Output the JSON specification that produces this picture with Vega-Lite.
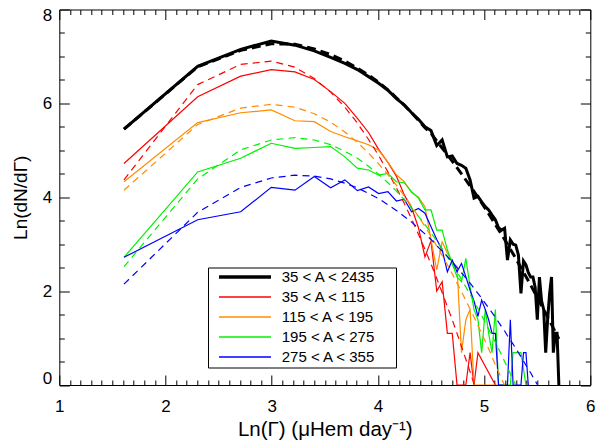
{
  "$schema": "https://vega.github.io/schema/vega-lite/v6.json",
  "width": 531,
  "height": 375.5,
  "autosize": {"type": "none"},
  "padding": {"left": 59.3, "top": 9.5, "right": 10.7, "bottom": 60},
  "background": "white",
  "config": {
    "view": {"stroke": "black", "strokeWidth": 1},
    "axis": {"labelFont": "Liberation Sans", "titleFont": "Liberation Sans", "labelColor": "black", "titleColor": "black", "titleFontWeight": "normal", "tickColor": "black", "grid": false},
    "legend": {"labelFont": "Liberation Sans", "labelFontSize": 15, "labelAlign": "left", "labelColor": "black"}
  },
  "datasets": {
    "obs": [
      {"series": "35 < A < 2435", "lnG": 1.609, "lnN": 5.45}, {"series": "35 < A < 2435", "lnG": 2.303, "lnN": 6.79}, {"series": "35 < A < 2435", "lnG": 2.708, "lnN": 7.15}, {"series": "35 < A < 2435", "lnG": 2.996, "lnN": 7.33}, {"series": "35 < A < 2435", "lnG": 3.219, "lnN": 7.24}, {"series": "35 < A < 2435", "lnG": 3.401, "lnN": 7.12}, {"series": "35 < A < 2435", "lnG": 3.555, "lnN": 6.98}, {"series": "35 < A < 2435", "lnG": 3.689, "lnN": 6.85}, {"series": "35 < A < 2435", "lnG": 3.807, "lnN": 6.72}, {"series": "35 < A < 2435", "lnG": 3.912, "lnN": 6.57}, {"series": "35 < A < 2435", "lnG": 4.007, "lnN": 6.43}, {"series": "35 < A < 2435", "lnG": 4.094, "lnN": 6.28}, {"series": "35 < A < 2435", "lnG": 4.174, "lnN": 6.10}, {"series": "35 < A < 2435", "lnG": 4.248, "lnN": 5.97}, {"series": "35 < A < 2435", "lnG": 4.317, "lnN": 5.80}, {"series": "35 < A < 2435", "lnG": 4.382, "lnN": 5.66}, {"series": "35 < A < 2435", "lnG": 4.443, "lnN": 5.50}, {"series": "35 < A < 2435", "lnG": 4.500, "lnN": 5.42}, {"series": "35 < A < 2435", "lnG": 4.554, "lnN": 5.10}, {"series": "35 < A < 2435", "lnG": 4.605, "lnN": 5.22}, {"series": "35 < A < 2435", "lnG": 4.654, "lnN": 4.86}, {"series": "35 < A < 2435", "lnG": 4.700, "lnN": 4.88}, {"series": "35 < A < 2435", "lnG": 4.745, "lnN": 4.72}, {"series": "35 < A < 2435", "lnG": 4.787, "lnN": 4.68}, {"series": "35 < A < 2435", "lnG": 4.828, "lnN": 4.62}, {"series": "35 < A < 2435", "lnG": 4.868, "lnN": 4.37}, {"series": "35 < A < 2435", "lnG": 4.905, "lnN": 3.98}, {"series": "35 < A < 2435", "lnG": 4.942, "lnN": 4.02}, {"series": "35 < A < 2435", "lnG": 4.977, "lnN": 3.90}, {"series": "35 < A < 2435", "lnG": 5.011, "lnN": 3.80}, {"series": "35 < A < 2435", "lnG": 5.043, "lnN": 3.73}, {"series": "35 < A < 2435", "lnG": 5.075, "lnN": 3.62}, {"series": "35 < A < 2435", "lnG": 5.106, "lnN": 3.52}, {"series": "35 < A < 2435", "lnG": 5.136, "lnN": 3.35}, {"series": "35 < A < 2435", "lnG": 5.165, "lnN": 3.30}, {"series": "35 < A < 2435", "lnG": 5.193, "lnN": 3.34}, {"series": "35 < A < 2435", "lnG": 5.220, "lnN": 2.66}, {"series": "35 < A < 2435", "lnG": 5.247, "lnN": 3.09}, {"series": "35 < A < 2435", "lnG": 5.273, "lnN": 3.00}, {"series": "35 < A < 2435", "lnG": 5.298, "lnN": 2.98}, {"series": "35 < A < 2435", "lnG": 5.323, "lnN": 2.77}, {"series": "35 < A < 2435", "lnG": 5.347, "lnN": 1.95}, {"series": "35 < A < 2435", "lnG": 5.371, "lnN": 2.64}, {"series": "35 < A < 2435", "lnG": 5.394, "lnN": 2.56}, {"series": "35 < A < 2435", "lnG": 5.416, "lnN": 2.40}, {"series": "35 < A < 2435", "lnG": 5.438, "lnN": 2.30}, {"series": "35 < A < 2435", "lnG": 5.460, "lnN": 2.30}, {"series": "35 < A < 2435", "lnG": 5.481, "lnN": 2.08}, {"series": "35 < A < 2435", "lnG": 5.501, "lnN": 1.39}, {"series": "35 < A < 2435", "lnG": 5.521, "lnN": 2.30}, {"series": "35 < A < 2435", "lnG": 5.541, "lnN": 1.79}, {"series": "35 < A < 2435", "lnG": 5.561, "lnN": 1.61}, {"series": "35 < A < 2435", "lnG": 5.580, "lnN": 0.69}, {"series": "35 < A < 2435", "lnG": 5.598, "lnN": 1.39}, {"series": "35 < A < 2435", "lnG": 5.617, "lnN": 1.95}, {"series": "35 < A < 2435", "lnG": 5.635, "lnN": 2.30}, {"series": "35 < A < 2435", "lnG": 5.652, "lnN": 0.69}, {"series": "35 < A < 2435", "lnG": 5.670, "lnN": 1.10}, {"series": "35 < A < 2435", "lnG": 5.687, "lnN": 1.10}, {"series": "35 < A < 2435", "lnG": 5.704, "lnN": 0},

      {"series": "35 < A < 115", "lnG": 1.609, "lnN": 4.72}, {"series": "35 < A < 115", "lnG": 2.303, "lnN": 6.14}, {"series": "35 < A < 115", "lnG": 2.708, "lnN": 6.58}, {"series": "35 < A < 115", "lnG": 2.996, "lnN": 6.72}, {"series": "35 < A < 115", "lnG": 3.219, "lnN": 6.67}, {"series": "35 < A < 115", "lnG": 3.401, "lnN": 6.51}, {"series": "35 < A < 115", "lnG": 3.555, "lnN": 6.25}, {"series": "35 < A < 115", "lnG": 3.689, "lnN": 6.00}, {"series": "35 < A < 115", "lnG": 3.807, "lnN": 5.68}, {"series": "35 < A < 115", "lnG": 3.912, "lnN": 5.38}, {"series": "35 < A < 115", "lnG": 4.007, "lnN": 5.02}, {"series": "35 < A < 115", "lnG": 4.094, "lnN": 4.74}, {"series": "35 < A < 115", "lnG": 4.174, "lnN": 4.45}, {"series": "35 < A < 115", "lnG": 4.248, "lnN": 4.05}, {"series": "35 < A < 115", "lnG": 4.317, "lnN": 3.78}, {"series": "35 < A < 115", "lnG": 4.382, "lnN": 3.35}, {"series": "35 < A < 115", "lnG": 4.443, "lnN": 2.73}, {"series": "35 < A < 115", "lnG": 4.500, "lnN": 3.07}, {"series": "35 < A < 115", "lnG": 4.554, "lnN": 2.00}, {"series": "35 < A < 115", "lnG": 4.605, "lnN": 2.20}, {"series": "35 < A < 115", "lnG": 4.654, "lnN": 1.10}, {"series": "35 < A < 115", "lnG": 4.700, "lnN": 1.10}, {"series": "35 < A < 115", "lnG": 4.745, "lnN": 0}, {"series": "35 < A < 115", "lnG": 4.787, "lnN": 0}, {"series": "35 < A < 115", "lnG": 4.828, "lnN": 0}, {"series": "35 < A < 115", "lnG": 4.868, "lnN": 0.69}, {"series": "35 < A < 115", "lnG": 4.905, "lnN": 0}, {"series": "35 < A < 115", "lnG": 4.942, "lnN": 0.69}, {"series": "35 < A < 115", "lnG": 5.106, "lnN": 0},

      {"series": "115 < A < 195", "lnG": 1.609, "lnN": 4.33}, {"series": "115 < A < 195", "lnG": 2.303, "lnN": 5.59}, {"series": "115 < A < 195", "lnG": 2.708, "lnN": 5.80}, {"series": "115 < A < 195", "lnG": 2.996, "lnN": 5.86}, {"series": "115 < A < 195", "lnG": 3.219, "lnN": 5.63}, {"series": "115 < A < 195", "lnG": 3.401, "lnN": 5.61}, {"series": "115 < A < 195", "lnG": 3.555, "lnN": 5.40}, {"series": "115 < A < 195", "lnG": 3.689, "lnN": 5.29}, {"series": "115 < A < 195", "lnG": 3.807, "lnN": 5.20}, {"series": "115 < A < 195", "lnG": 3.912, "lnN": 5.12}, {"series": "115 < A < 195", "lnG": 4.007, "lnN": 5.00}, {"series": "115 < A < 195", "lnG": 4.094, "lnN": 4.75}, {"series": "115 < A < 195", "lnG": 4.174, "lnN": 4.48}, {"series": "115 < A < 195", "lnG": 4.248, "lnN": 4.33}, {"series": "115 < A < 195", "lnG": 4.317, "lnN": 4.10}, {"series": "115 < A < 195", "lnG": 4.382, "lnN": 4.00}, {"series": "115 < A < 195", "lnG": 4.443, "lnN": 3.80}, {"series": "115 < A < 195", "lnG": 4.500, "lnN": 3.10}, {"series": "115 < A < 195", "lnG": 4.554, "lnN": 2.45}, {"series": "115 < A < 195", "lnG": 4.605, "lnN": 3.05}, {"series": "115 < A < 195", "lnG": 4.654, "lnN": 2.81}, {"series": "115 < A < 195", "lnG": 4.700, "lnN": 2.63}, {"series": "115 < A < 195", "lnG": 4.745, "lnN": 2.52}, {"series": "115 < A < 195", "lnG": 4.787, "lnN": 0.69}, {"series": "115 < A < 195", "lnG": 4.828, "lnN": 1.39}, {"series": "115 < A < 195", "lnG": 4.868, "lnN": 1.61}, {"series": "115 < A < 195", "lnG": 4.905, "lnN": 0}, {"series": "115 < A < 195", "lnG": 4.942, "lnN": 0}, {"series": "115 < A < 195", "lnG": 5.011, "lnN": 0}, {"series": "115 < A < 195", "lnG": 5.075, "lnN": 0}, {"series": "115 < A < 195", "lnG": 5.136, "lnN": 0},

      {"series": "195 < A < 275", "lnG": 1.609, "lnN": 2.72}, {"series": "195 < A < 275", "lnG": 2.303, "lnN": 4.54}, {"series": "195 < A < 275", "lnG": 2.708, "lnN": 4.83}, {"series": "195 < A < 275", "lnG": 2.996, "lnN": 5.15}, {"series": "195 < A < 275", "lnG": 3.219, "lnN": 5.04}, {"series": "195 < A < 275", "lnG": 3.401, "lnN": 5.06}, {"series": "195 < A < 275", "lnG": 3.555, "lnN": 5.08}, {"series": "195 < A < 275", "lnG": 3.689, "lnN": 4.86}, {"series": "195 < A < 275", "lnG": 3.807, "lnN": 4.62}, {"series": "195 < A < 275", "lnG": 3.912, "lnN": 4.58}, {"series": "195 < A < 275", "lnG": 4.007, "lnN": 4.47}, {"series": "195 < A < 275", "lnG": 4.094, "lnN": 4.51}, {"series": "195 < A < 275", "lnG": 4.174, "lnN": 4.33}, {"series": "195 < A < 275", "lnG": 4.248, "lnN": 4.31}, {"series": "195 < A < 275", "lnG": 4.317, "lnN": 4.12}, {"series": "195 < A < 275", "lnG": 4.382, "lnN": 3.98}, {"series": "195 < A < 275", "lnG": 4.443, "lnN": 3.73}, {"series": "195 < A < 275", "lnG": 4.500, "lnN": 3.73}, {"series": "195 < A < 275", "lnG": 4.554, "lnN": 3.30}, {"series": "195 < A < 275", "lnG": 4.605, "lnN": 3.30}, {"series": "195 < A < 275", "lnG": 4.654, "lnN": 2.88}, {"series": "195 < A < 275", "lnG": 4.700, "lnN": 2.59}, {"series": "195 < A < 275", "lnG": 4.745, "lnN": 2.30}, {"series": "195 < A < 275", "lnG": 4.787, "lnN": 2.20}, {"series": "195 < A < 275", "lnG": 4.828, "lnN": 2.70}, {"series": "195 < A < 275", "lnG": 4.868, "lnN": 2.09}, {"series": "195 < A < 275", "lnG": 4.905, "lnN": 1.61}, {"series": "195 < A < 275", "lnG": 4.942, "lnN": 1.39}, {"series": "195 < A < 275", "lnG": 4.977, "lnN": 0.69}, {"series": "195 < A < 275", "lnG": 5.011, "lnN": 1.61}, {"series": "195 < A < 275", "lnG": 5.043, "lnN": 1.10}, {"series": "195 < A < 275", "lnG": 5.075, "lnN": 0.69}, {"series": "195 < A < 275", "lnG": 5.106, "lnN": 1.61}, {"series": "195 < A < 275", "lnG": 5.136, "lnN": 0}, {"series": "195 < A < 275", "lnG": 5.165, "lnN": 0}, {"series": "195 < A < 275", "lnG": 5.193, "lnN": 0}, {"series": "195 < A < 275", "lnG": 5.220, "lnN": 0}, {"series": "195 < A < 275", "lnG": 5.247, "lnN": 0}, {"series": "195 < A < 275", "lnG": 5.273, "lnN": 0.69}, {"series": "195 < A < 275", "lnG": 5.298, "lnN": 0.69}, {"series": "195 < A < 275", "lnG": 5.323, "lnN": 0.69}, {"series": "195 < A < 275", "lnG": 5.347, "lnN": 0.69}, {"series": "195 < A < 275", "lnG": 5.394, "lnN": 0},

      {"series": "275 < A < 355", "lnG": 1.609, "lnN": 2.72}, {"series": "275 < A < 355", "lnG": 2.303, "lnN": 3.52}, {"series": "275 < A < 355", "lnG": 2.708, "lnN": 3.69}, {"series": "275 < A < 355", "lnG": 2.996, "lnN": 4.21}, {"series": "275 < A < 355", "lnG": 3.219, "lnN": 4.15}, {"series": "275 < A < 355", "lnG": 3.401, "lnN": 4.44}, {"series": "275 < A < 355", "lnG": 3.555, "lnN": 4.20}, {"series": "275 < A < 355", "lnG": 3.689, "lnN": 4.37}, {"series": "275 < A < 355", "lnG": 3.807, "lnN": 4.14}, {"series": "275 < A < 355", "lnG": 3.912, "lnN": 4.22}, {"series": "275 < A < 355", "lnG": 4.007, "lnN": 4.08}, {"series": "275 < A < 355", "lnG": 4.094, "lnN": 4.12}, {"series": "275 < A < 355", "lnG": 4.174, "lnN": 3.92}, {"series": "275 < A < 355", "lnG": 4.248, "lnN": 3.96}, {"series": "275 < A < 355", "lnG": 4.317, "lnN": 3.69}, {"series": "275 < A < 355", "lnG": 4.382, "lnN": 3.76}, {"series": "275 < A < 355", "lnG": 4.443, "lnN": 3.66}, {"series": "275 < A < 355", "lnG": 4.500, "lnN": 3.37}, {"series": "275 < A < 355", "lnG": 4.554, "lnN": 3.10}, {"series": "275 < A < 355", "lnG": 4.605, "lnN": 2.88}, {"series": "275 < A < 355", "lnG": 4.654, "lnN": 2.41}, {"series": "275 < A < 355", "lnG": 4.700, "lnN": 2.66}, {"series": "275 < A < 355", "lnG": 4.745, "lnN": 2.41}, {"series": "275 < A < 355", "lnG": 4.787, "lnN": 2.59}, {"series": "275 < A < 355", "lnG": 4.828, "lnN": 2.31}, {"series": "275 < A < 355", "lnG": 4.868, "lnN": 2.02}, {"series": "275 < A < 355", "lnG": 4.905, "lnN": 1.79}, {"series": "275 < A < 355", "lnG": 4.942, "lnN": 1.46}, {"series": "275 < A < 355", "lnG": 4.977, "lnN": 1.81}, {"series": "275 < A < 355", "lnG": 5.011, "lnN": 1.61}, {"series": "275 < A < 355", "lnG": 5.043, "lnN": 1.39}, {"series": "275 < A < 355", "lnG": 5.075, "lnN": 1.10}, {"series": "275 < A < 355", "lnG": 5.106, "lnN": 1.10}, {"series": "275 < A < 355", "lnG": 5.136, "lnN": 0}, {"series": "275 < A < 355", "lnG": 5.165, "lnN": 0}, {"series": "275 < A < 355", "lnG": 5.193, "lnN": 0}, {"series": "275 < A < 355", "lnG": 5.220, "lnN": 0}, {"series": "275 < A < 355", "lnG": 5.247, "lnN": 1.39}, {"series": "275 < A < 355", "lnG": 5.273, "lnN": 0}, {"series": "275 < A < 355", "lnG": 5.298, "lnN": 0}, {"series": "275 < A < 355", "lnG": 5.323, "lnN": 0}, {"series": "275 < A < 355", "lnG": 5.347, "lnN": 0}, {"series": "275 < A < 355", "lnG": 5.371, "lnN": 0.69}, {"series": "275 < A < 355", "lnG": 5.394, "lnN": 0.69}, {"series": "275 < A < 355", "lnG": 5.416, "lnN": 0}
    ],
    "fit": [
      {"series": "35 < A < 2435", "lnG": 1.609, "lnN": 5.45}, {"series": "35 < A < 2435", "lnG": 2.303, "lnN": 6.78}, {"series": "35 < A < 2435", "lnG": 2.708, "lnN": 7.13}, {"series": "35 < A < 2435", "lnG": 2.996, "lnN": 7.27}, {"series": "35 < A < 2435", "lnG": 3.219, "lnN": 7.26}, {"series": "35 < A < 2435", "lnG": 3.401, "lnN": 7.16}, {"series": "35 < A < 2435", "lnG": 3.555, "lnN": 7.04}, {"series": "35 < A < 2435", "lnG": 3.689, "lnN": 6.90}, {"series": "35 < A < 2435", "lnG": 3.807, "lnN": 6.75}, {"series": "35 < A < 2435", "lnG": 3.912, "lnN": 6.60}, {"series": "35 < A < 2435", "lnG": 4.007, "lnN": 6.45}, {"series": "35 < A < 2435", "lnG": 4.094, "lnN": 6.29}, {"series": "35 < A < 2435", "lnG": 4.174, "lnN": 6.12}, {"series": "35 < A < 2435", "lnG": 4.248, "lnN": 5.96}, {"series": "35 < A < 2435", "lnG": 4.317, "lnN": 5.80}, {"series": "35 < A < 2435", "lnG": 4.382, "lnN": 5.64}, {"series": "35 < A < 2435", "lnG": 4.443, "lnN": 5.48}, {"series": "35 < A < 2435", "lnG": 4.500, "lnN": 5.36}, {"series": "35 < A < 2435", "lnG": 4.605, "lnN": 5.05}, {"series": "35 < A < 2435", "lnG": 4.700, "lnN": 4.77}, {"series": "35 < A < 2435", "lnG": 4.787, "lnN": 4.50}, {"series": "35 < A < 2435", "lnG": 4.868, "lnN": 4.24}, {"series": "35 < A < 2435", "lnG": 4.942, "lnN": 4.00}, {"series": "35 < A < 2435", "lnG": 5.011, "lnN": 3.76}, {"series": "35 < A < 2435", "lnG": 5.075, "lnN": 3.53}, {"series": "35 < A < 2435", "lnG": 5.136, "lnN": 3.31}, {"series": "35 < A < 2435", "lnG": 5.193, "lnN": 3.10}, {"series": "35 < A < 2435", "lnG": 5.247, "lnN": 2.89}, {"series": "35 < A < 2435", "lnG": 5.298, "lnN": 2.70}, {"series": "35 < A < 2435", "lnG": 5.347, "lnN": 2.50}, {"series": "35 < A < 2435", "lnG": 5.394, "lnN": 2.31}, {"series": "35 < A < 2435", "lnG": 5.438, "lnN": 2.13}, {"series": "35 < A < 2435", "lnG": 5.481, "lnN": 1.95}, {"series": "35 < A < 2435", "lnG": 5.521, "lnN": 1.78}, {"series": "35 < A < 2435", "lnG": 5.561, "lnN": 1.61}, {"series": "35 < A < 2435", "lnG": 5.598, "lnN": 1.45}, {"series": "35 < A < 2435", "lnG": 5.635, "lnN": 1.29}, {"series": "35 < A < 2435", "lnG": 5.670, "lnN": 1.13}, {"series": "35 < A < 2435", "lnG": 5.704, "lnN": 0.98},

      {"series": "35 < A < 115", "lnG": 1.609, "lnN": 4.37}, {"series": "35 < A < 115", "lnG": 2.303, "lnN": 6.40}, {"series": "35 < A < 115", "lnG": 2.708, "lnN": 6.83}, {"series": "35 < A < 115", "lnG": 2.996, "lnN": 6.90}, {"series": "35 < A < 115", "lnG": 3.219, "lnN": 6.77}, {"series": "35 < A < 115", "lnG": 3.401, "lnN": 6.53}, {"series": "35 < A < 115", "lnG": 3.555, "lnN": 6.24}, {"series": "35 < A < 115", "lnG": 3.689, "lnN": 5.92}, {"series": "35 < A < 115", "lnG": 3.807, "lnN": 5.58}, {"series": "35 < A < 115", "lnG": 3.912, "lnN": 5.23}, {"series": "35 < A < 115", "lnG": 4.007, "lnN": 4.89}, {"series": "35 < A < 115", "lnG": 4.094, "lnN": 4.54}, {"series": "35 < A < 115", "lnG": 4.174, "lnN": 4.20}, {"series": "35 < A < 115", "lnG": 4.248, "lnN": 3.87}, {"series": "35 < A < 115", "lnG": 4.317, "lnN": 3.54}, {"series": "35 < A < 115", "lnG": 4.382, "lnN": 3.21}, {"series": "35 < A < 115", "lnG": 4.443, "lnN": 2.89}, {"series": "35 < A < 115", "lnG": 4.500, "lnN": 2.58}, {"series": "35 < A < 115", "lnG": 4.554, "lnN": 2.27}, {"series": "35 < A < 115", "lnG": 4.605, "lnN": 1.97}, {"series": "35 < A < 115", "lnG": 4.654, "lnN": 1.67}, {"series": "35 < A < 115", "lnG": 4.700, "lnN": 1.39}, {"series": "35 < A < 115", "lnG": 4.745, "lnN": 1.10}, {"series": "35 < A < 115", "lnG": 4.787, "lnN": 0.82}, {"series": "35 < A < 115", "lnG": 4.828, "lnN": 0.55}, {"series": "35 < A < 115", "lnG": 4.868, "lnN": 0.28}, {"series": "35 < A < 115", "lnG": 4.905, "lnN": 0.02},

      {"series": "115 < A < 195", "lnG": 1.609, "lnN": 4.15}, {"series": "115 < A < 195", "lnG": 2.303, "lnN": 5.55}, {"series": "115 < A < 195", "lnG": 2.708, "lnN": 5.90}, {"series": "115 < A < 195", "lnG": 2.996, "lnN": 5.98}, {"series": "115 < A < 195", "lnG": 3.219, "lnN": 5.92}, {"series": "115 < A < 195", "lnG": 3.401, "lnN": 5.78}, {"series": "115 < A < 195", "lnG": 3.555, "lnN": 5.60}, {"series": "115 < A < 195", "lnG": 3.689, "lnN": 5.39}, {"series": "115 < A < 195", "lnG": 3.807, "lnN": 5.17}, {"series": "115 < A < 195", "lnG": 3.912, "lnN": 4.94}, {"series": "115 < A < 195", "lnG": 4.007, "lnN": 4.71}, {"series": "115 < A < 195", "lnG": 4.094, "lnN": 4.48}, {"series": "115 < A < 195", "lnG": 4.174, "lnN": 4.26}, {"series": "115 < A < 195", "lnG": 4.248, "lnN": 4.03}, {"series": "115 < A < 195", "lnG": 4.317, "lnN": 3.81}, {"series": "115 < A < 195", "lnG": 4.382, "lnN": 3.59}, {"series": "115 < A < 195", "lnG": 4.443, "lnN": 3.38}, {"series": "115 < A < 195", "lnG": 4.500, "lnN": 3.17}, {"series": "115 < A < 195", "lnG": 4.554, "lnN": 2.96}, {"series": "115 < A < 195", "lnG": 4.605, "lnN": 2.76}, {"series": "115 < A < 195", "lnG": 4.654, "lnN": 2.56}, {"series": "115 < A < 195", "lnG": 4.700, "lnN": 2.37}, {"series": "115 < A < 195", "lnG": 4.745, "lnN": 2.17}, {"series": "115 < A < 195", "lnG": 4.787, "lnN": 1.99}, {"series": "115 < A < 195", "lnG": 4.828, "lnN": 1.80}, {"series": "115 < A < 195", "lnG": 4.868, "lnN": 1.62}, {"series": "115 < A < 195", "lnG": 4.905, "lnN": 1.45}, {"series": "115 < A < 195", "lnG": 4.942, "lnN": 1.27}, {"series": "115 < A < 195", "lnG": 4.977, "lnN": 1.10}, {"series": "115 < A < 195", "lnG": 5.011, "lnN": 0.93}, {"series": "115 < A < 195", "lnG": 5.043, "lnN": 0.77}, {"series": "115 < A < 195", "lnG": 5.075, "lnN": 0.60}, {"series": "115 < A < 195", "lnG": 5.106, "lnN": 0.43}, {"series": "115 < A < 195", "lnG": 5.136, "lnN": 0.28}, {"series": "115 < A < 195", "lnG": 5.165, "lnN": 0.12}, {"series": "115 < A < 195", "lnG": 5.193, "lnN": 0.0},

      {"series": "195 < A < 275", "lnG": 1.609, "lnN": 2.52}, {"series": "195 < A < 275", "lnG": 2.303, "lnN": 4.39}, {"series": "195 < A < 275", "lnG": 2.708, "lnN": 5.01}, {"series": "195 < A < 275", "lnG": 2.996, "lnN": 5.22}, {"series": "195 < A < 275", "lnG": 3.219, "lnN": 5.27}, {"series": "195 < A < 275", "lnG": 3.401, "lnN": 5.22}, {"series": "195 < A < 275", "lnG": 3.555, "lnN": 5.12}, {"series": "195 < A < 275", "lnG": 3.689, "lnN": 4.98}, {"series": "195 < A < 275", "lnG": 3.807, "lnN": 4.83}, {"series": "195 < A < 275", "lnG": 3.912, "lnN": 4.66}, {"series": "195 < A < 275", "lnG": 4.007, "lnN": 4.49}, {"series": "195 < A < 275", "lnG": 4.094, "lnN": 4.31}, {"series": "195 < A < 275", "lnG": 4.174, "lnN": 4.13}, {"series": "195 < A < 275", "lnG": 4.248, "lnN": 3.95}, {"series": "195 < A < 275", "lnG": 4.317, "lnN": 3.77}, {"series": "195 < A < 275", "lnG": 4.382, "lnN": 3.59}, {"series": "195 < A < 275", "lnG": 4.443, "lnN": 3.42}, {"series": "195 < A < 275", "lnG": 4.500, "lnN": 3.24}, {"series": "195 < A < 275", "lnG": 4.554, "lnN": 3.07}, {"series": "195 < A < 275", "lnG": 4.605, "lnN": 2.90}, {"series": "195 < A < 275", "lnG": 4.654, "lnN": 2.73}, {"series": "195 < A < 275", "lnG": 4.700, "lnN": 2.57}, {"series": "195 < A < 275", "lnG": 4.745, "lnN": 2.41}, {"series": "195 < A < 275", "lnG": 4.787, "lnN": 2.25}, {"series": "195 < A < 275", "lnG": 4.828, "lnN": 2.09}, {"series": "195 < A < 275", "lnG": 4.868, "lnN": 1.93}, {"series": "195 < A < 275", "lnG": 4.905, "lnN": 1.78}, {"series": "195 < A < 275", "lnG": 4.942, "lnN": 1.63}, {"series": "195 < A < 275", "lnG": 4.977, "lnN": 1.48}, {"series": "195 < A < 275", "lnG": 5.011, "lnN": 1.33}, {"series": "195 < A < 275", "lnG": 5.043, "lnN": 1.19}, {"series": "195 < A < 275", "lnG": 5.075, "lnN": 1.05}, {"series": "195 < A < 275", "lnG": 5.106, "lnN": 0.91}, {"series": "195 < A < 275", "lnG": 5.136, "lnN": 0.77}, {"series": "195 < A < 275", "lnG": 5.165, "lnN": 0.64}, {"series": "195 < A < 275", "lnG": 5.193, "lnN": 0.50}, {"series": "195 < A < 275", "lnG": 5.220, "lnN": 0.37}, {"series": "195 < A < 275", "lnG": 5.247, "lnN": 0.24}, {"series": "195 < A < 275", "lnG": 5.273, "lnN": 0.11}, {"series": "195 < A < 275", "lnG": 5.298, "lnN": 0.0},

      {"series": "275 < A < 355", "lnG": 1.609, "lnN": 2.15}, {"series": "275 < A < 355", "lnG": 2.303, "lnN": 3.68}, {"series": "275 < A < 355", "lnG": 2.708, "lnN": 4.21}, {"series": "275 < A < 355", "lnG": 2.996, "lnN": 4.41}, {"series": "275 < A < 355", "lnG": 3.219, "lnN": 4.47}, {"series": "275 < A < 355", "lnG": 3.401, "lnN": 4.45}, {"series": "275 < A < 355", "lnG": 3.555, "lnN": 4.39}, {"series": "275 < A < 355", "lnG": 3.689, "lnN": 4.30}, {"series": "275 < A < 355", "lnG": 3.807, "lnN": 4.20}, {"series": "275 < A < 355", "lnG": 3.912, "lnN": 4.08}, {"series": "275 < A < 355", "lnG": 4.007, "lnN": 3.97}, {"series": "275 < A < 355", "lnG": 4.094, "lnN": 3.84}, {"series": "275 < A < 355", "lnG": 4.174, "lnN": 3.72}, {"series": "275 < A < 355", "lnG": 4.248, "lnN": 3.59}, {"series": "275 < A < 355", "lnG": 4.317, "lnN": 3.47}, {"series": "275 < A < 355", "lnG": 4.382, "lnN": 3.34}, {"series": "275 < A < 355", "lnG": 4.443, "lnN": 3.22}, {"series": "275 < A < 355", "lnG": 4.500, "lnN": 3.10}, {"series": "275 < A < 355", "lnG": 4.554, "lnN": 2.97}, {"series": "275 < A < 355", "lnG": 4.605, "lnN": 2.85}, {"series": "275 < A < 355", "lnG": 4.654, "lnN": 2.74}, {"series": "275 < A < 355", "lnG": 4.700, "lnN": 2.62}, {"series": "275 < A < 355", "lnG": 4.745, "lnN": 2.50}, {"series": "275 < A < 355", "lnG": 4.787, "lnN": 2.39}, {"series": "275 < A < 355", "lnG": 4.828, "lnN": 2.28}, {"series": "275 < A < 355", "lnG": 4.868, "lnN": 2.17}, {"series": "275 < A < 355", "lnG": 4.905, "lnN": 2.06}, {"series": "275 < A < 355", "lnG": 4.942, "lnN": 1.95}, {"series": "275 < A < 355", "lnG": 4.977, "lnN": 1.85}, {"series": "275 < A < 355", "lnG": 5.011, "lnN": 1.74}, {"series": "275 < A < 355", "lnG": 5.043, "lnN": 1.64}, {"series": "275 < A < 355", "lnG": 5.075, "lnN": 1.54}, {"series": "275 < A < 355", "lnG": 5.106, "lnN": 1.44}, {"series": "275 < A < 355", "lnG": 5.136, "lnN": 1.34}, {"series": "275 < A < 355", "lnG": 5.165, "lnN": 1.24}, {"series": "275 < A < 355", "lnG": 5.193, "lnN": 1.15}, {"series": "275 < A < 355", "lnG": 5.220, "lnN": 1.05}, {"series": "275 < A < 355", "lnG": 5.247, "lnN": 0.96}, {"series": "275 < A < 355", "lnG": 5.273, "lnN": 0.87}, {"series": "275 < A < 355", "lnG": 5.298, "lnN": 0.78}, {"series": "275 < A < 355", "lnG": 5.323, "lnN": 0.69}, {"series": "275 < A < 355", "lnG": 5.347, "lnN": 0.60}, {"series": "275 < A < 355", "lnG": 5.371, "lnN": 0.51}, {"series": "275 < A < 355", "lnG": 5.394, "lnN": 0.42}, {"series": "275 < A < 355", "lnG": 5.416, "lnN": 0.34}, {"series": "275 < A < 355", "lnG": 5.438, "lnN": 0.26}, {"series": "275 < A < 355", "lnG": 5.460, "lnN": 0.17}, {"series": "275 < A < 355", "lnG": 5.481, "lnN": 0.09}, {"series": "275 < A < 355", "lnG": 5.501, "lnN": 0.01}
    ]
  },
  "layer": [
    {
      "data": {"name": "obs"},
      "mark": {"type": "line", "clip": true, "strokeJoin": "miter"},
      "encoding": {
        "x": {"field": "lnG", "type": "quantitative", "scale": {"domain": [1, 6], "nice": false, "zero": false},
          "axis": {"values": [1, 2, 3, 4, 5, 6], "ticks": false, "domain": false, "labelFontSize": 17, "labelPadding": 13.5, "labelFlush": false, "labelOverlap": false, "format": "d", "title": "Ln(Γ) (μHem day⁻¹)", "titleFontSize": 20.5, "titlePadding": 5}},
        "y": {"field": "lnN", "type": "quantitative", "scale": {"domain": [0, 8], "nice": false, "zero": false},
          "axis": {"values": [0, 2, 4, 6, 8], "ticks": false, "domain": false, "labelFontSize": 17, "labelPadding": 7.5, "labelFlush": true, "labelFlushOffset": 2.5, "labelOverlap": false, "format": "d", "title": "Ln(dN/dΓ)", "titleFontSize": 19, "titlePadding": 12}},
        "color": {"field": "series", "type": "nominal",
          "scale": {"domain": ["35 < A < 2435", "35 < A < 115", "115 < A < 195", "195 < A < 275", "275 < A < 355"], "range": ["#000000", "#ff0000", "#ff8c00", "#00f000", "#0000ff"]},
          "legend": {"orient": "none", "legendX": 148.7, "legendY": 258, "title": null, "strokeColor": "black", "fillColor": "white", "padding": 2,
            "labelLimit": 300,
            "symbolType": "M-5.833,0M-4.333,0H4.333M23.55,0", "symbolSize": 144, "symbolOffset": 27.5, "labelOffset": 29.2, "rowPadding": 4, "symbolStrokeWidth": 1.2,
            "encode": {"symbols": {"update": {"strokeWidth": {"signal": "datum.value === '35 < A < 2435' ? 3.5 : 1.3"}}}}}},
        "strokeWidth": {"condition": {"test": "datum.series === '35 < A < 2435'", "value": 3}, "value": 1.2}
      }
    },
    {
      "data": {"name": "fit"},
      "transform": [{"filter": "datum.series === '35 < A < 2435'"}],
      "mark": {"type": "line", "clip": true, "strokeWidth": 3, "strokeDash": [9, 5]},
      "encoding": {
        "x": {"field": "lnG", "type": "quantitative", "scale": {"domain": [1, 6], "nice": false, "zero": false}, "axis": null},
        "y": {"field": "lnN", "type": "quantitative", "scale": {"domain": [0, 8], "nice": false, "zero": false}, "axis": null},
        "color": {"field": "series", "type": "nominal", "legend": null}
      }
    },
    {
      "data": {"name": "fit"},
      "transform": [{"filter": "datum.series !== '35 < A < 2435'"}],
      "mark": {"type": "line", "clip": true, "strokeWidth": 1.2, "strokeDash": [7, 5]},
      "encoding": {
        "x": {"field": "lnG", "type": "quantitative", "scale": {"domain": [1, 6], "nice": false, "zero": false}, "axis": null},
        "y": {"field": "lnN", "type": "quantitative", "scale": {"domain": [0, 8], "nice": false, "zero": false}, "axis": null},
        "color": {"field": "series", "type": "nominal", "legend": null}
      }
    },
    {
      "data": {"name": "obs"},
      "mark": {"type": "point", "opacity": 0},
      "encoding": {
        "x": {"field": "lnG", "type": "quantitative", "scale": {"domain": [1, 6], "nice": false, "zero": false},
          "axis": {"orient": "bottom", "values": [1, 2, 3, 4, 5, 6], "tickSize": -10, "labels": false, "domain": false, "title": null}},
        "y": {"field": "lnN", "type": "quantitative", "scale": {"domain": [0, 8], "nice": false, "zero": false},
          "axis": {"orient": "left", "values": [0, 2, 4, 6, 8], "tickSize": -10, "labels": false, "domain": false, "title": null}}
      }
    },
    {
      "data": {"name": "obs"},
      "mark": {"type": "point", "opacity": 0},
      "encoding": {
        "x": {"field": "lnG", "type": "quantitative", "scale": {"domain": [1, 6], "nice": false, "zero": false},
          "axis": {"orient": "bottom", "values": [1.1, 1.2, 1.3, 1.4, 1.5, 1.6, 1.7, 1.8, 1.9, 2.1, 2.2, 2.3, 2.4, 2.5, 2.6, 2.7, 2.8, 2.9, 3.1, 3.2, 3.3, 3.4, 3.5, 3.6, 3.7, 3.8, 3.9, 4.1, 4.2, 4.3, 4.4, 4.5, 4.6, 4.7, 4.8, 4.9, 5.1, 5.2, 5.3, 5.4, 5.5, 5.6, 5.7, 5.8, 5.9], "tickSize": -5, "labels": false, "domain": false, "title": null}},
        "y": {"field": "lnN", "type": "quantitative", "scale": {"domain": [0, 8], "nice": false, "zero": false},
          "axis": {"orient": "left", "values": [0.5, 1, 1.5, 2.5, 3, 3.5, 4.5, 5, 5.5, 6.5, 7, 7.5], "tickSize": -5, "labels": false, "domain": false, "title": null}}
      }
    },
    {
      "data": {"name": "obs"},
      "mark": {"type": "point", "opacity": 0},
      "encoding": {
        "x": {"field": "lnG", "type": "quantitative", "scale": {"domain": [1, 6], "nice": false, "zero": false},
          "axis": {"orient": "top", "values": [1, 2, 3, 4, 5, 6], "tickSize": -10, "labels": false, "domain": false, "title": null}},
        "y": {"field": "lnN", "type": "quantitative", "scale": {"domain": [0, 8], "nice": false, "zero": false},
          "axis": {"orient": "right", "values": [0, 2, 4, 6, 8], "tickSize": -10, "labels": false, "domain": false, "title": null}}
      }
    },
    {
      "data": {"name": "obs"},
      "mark": {"type": "point", "opacity": 0},
      "encoding": {
        "x": {"field": "lnG", "type": "quantitative", "scale": {"domain": [1, 6], "nice": false, "zero": false},
          "axis": {"orient": "top", "values": [1.1, 1.2, 1.3, 1.4, 1.5, 1.6, 1.7, 1.8, 1.9, 2.1, 2.2, 2.3, 2.4, 2.5, 2.6, 2.7, 2.8, 2.9, 3.1, 3.2, 3.3, 3.4, 3.5, 3.6, 3.7, 3.8, 3.9, 4.1, 4.2, 4.3, 4.4, 4.5, 4.6, 4.7, 4.8, 4.9, 5.1, 5.2, 5.3, 5.4, 5.5, 5.6, 5.7, 5.8, 5.9], "tickSize": -5, "labels": false, "domain": false, "title": null}},
        "y": {"field": "lnN", "type": "quantitative", "scale": {"domain": [0, 8], "nice": false, "zero": false},
          "axis": {"orient": "right", "values": [0.5, 1, 1.5, 2.5, 3, 3.5, 4.5, 5, 5.5, 6.5, 7, 7.5], "tickSize": -5, "labels": false, "domain": false, "title": null}}
      }
    }
  ],
  "resolve": {"axis": {"x": "independent", "y": "independent"}}
}
